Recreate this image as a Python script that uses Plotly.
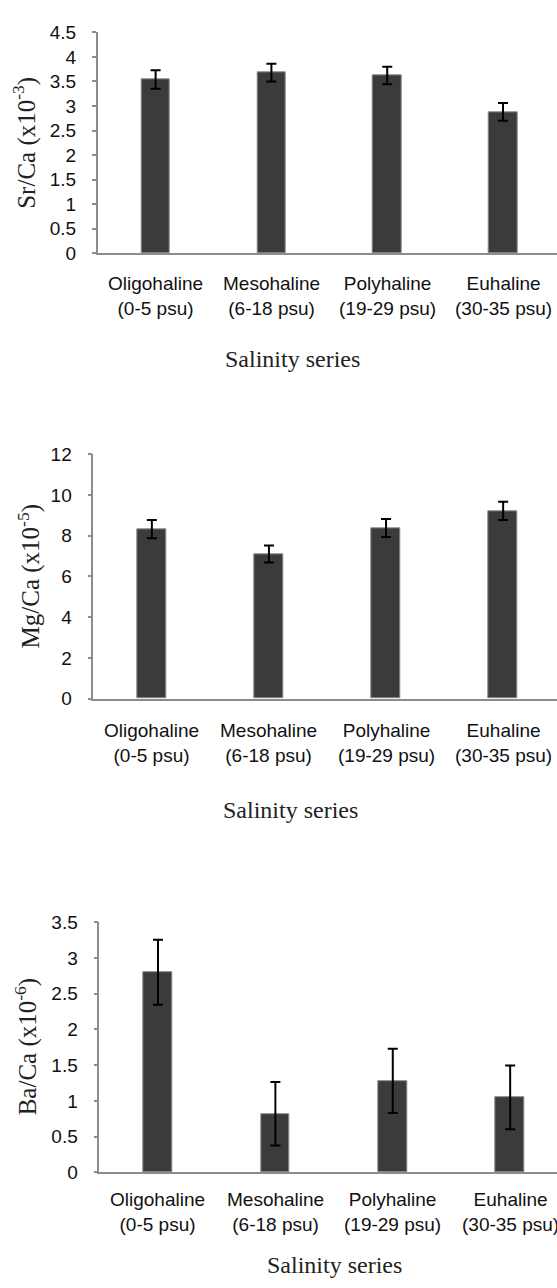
import plotly.graph_objects as go

# ---- data ----
categories = ["Oligohaline", "Mesohaline", "Polyhaline", "Euhaline"]
ranges = ["(0-5 psu)", "(6-18 psu)", "(19-29 psu)", "(30-35 psu)"]

sr_vals = [3.54, 3.68, 3.62, 2.88]
sr_err = [0.19, 0.18, 0.18, 0.18]

mg_vals = [8.33, 7.10, 8.38, 9.22]
mg_err = [0.45, 0.42, 0.44, 0.45]

ba_vals = [2.80, 0.82, 1.28, 1.05]
ba_err = [0.455, 0.445, 0.45, 0.445]

y_titles = ["Sr/Ca (x10<sup>-3</sup>)", "Mg/Ca (x10<sup>-5</sup>)", "Ba/Ca (x10<sup>-6</sup>)"]
x_title = "Salinity series"
y_ranges = [(0, 4.5), (0, 12), (0, 3.5)]
y_dticks = [0.5, 2, 0.5]

W, H = 557, 1288

# ---- layout geometry (pixels) ----
panels = [
    dict(axis_x=97.7, xr=3.466, top=22.7, bottom=247.3, lab=291, st=355, st_x=292, yt_x=25),
    dict(axis_x=93.3, xr=3.46, top=451.7, bottom=700.0, lab=745, st=813, st_x=290, yt_x=29),
    dict(axis_x=99.3, xr=3.399, top=927.3, bottom=1181.7, lab=1222, st=1276, st_x=334, yt_x=26),
]

series = [(sr_vals, sr_err), (mg_vals, mg_err), (ba_vals, ba_err)]

fig = go.Figure()
annotations = []
sans = "Liberation Sans, Arial, sans-serif"
serif = "Liberation Serif, Times New Roman, serif"
axis_col = "#8c8c8c"

for i, (p, (vals, errs)) in enumerate(zip(panels, series)):
    n = i + 1
    xa = "x" if n == 1 else f"x{n}"
    ya = "y" if n == 1 else f"y{n}"
    fig.add_trace(go.Bar(
        x=categories, y=vals, xaxis=xa, yaxis=ya, width=0.245,
        marker=dict(color="#3b3b3b", line=dict(color="#8a8a8a", width=1)),
        error_y=dict(type="data", array=errs, visible=True, color="#000000",
                     thickness=2, width=5),
        showlegend=False,
    ))
    xdom = [p["axis_x"] / W, 1.0]
    ydom = [1 - p["bottom"] / H, 1 - p["top"] / H]
    fig.layout[f"xaxis{'' if n == 1 else n}"] = dict(
        domain=xdom, range=[-0.5, p["xr"]], type="category", anchor=ya,
        showline=True, linecolor=axis_col, linewidth=1.5, showticklabels=False,
        ticks="", showgrid=False, zeroline=False, fixedrange=True,
    )
    fig.layout[f"yaxis{'' if n == 1 else n}"] = dict(
        domain=ydom, range=list(y_ranges[i]), dtick=y_dticks[i], tick0=0, anchor=xa,
        showline=True, linecolor=axis_col, linewidth=1.5, ticks="outside",
        ticklen=4, tickcolor=axis_col, tickwidth=1.5, showgrid=False, zeroline=False,
        tickfont=dict(family=sans, size=19, color="#111111"), ticklabelstandoff=12,
        fixedrange=True,
    )
    for c, r in zip(categories, ranges):
        annotations.append(dict(x=c, xref=xa, y=1 - p["lab"] / H, yref="paper",
                                text=f"{c}<br>{r}",
                                showarrow=False, xanchor="center", yanchor="middle",
                                font=dict(family=sans, size=19, color="#111111")))
    annotations.append(dict(x=p["st_x"] / W, xref="paper", y=1 - p["st"] / H, yref="paper",
                            text=x_title, showarrow=False, xanchor="center", yanchor="middle",
                            font=dict(family=serif, size=24, color="#222222")))
    annotations.append(dict(x=p["yt_x"] / W, xref="paper", y=1 - (p["top"] + p["bottom"]) / 2 / H,
                            yref="paper", text=y_titles[i], textangle=-90, showarrow=False,
                            xanchor="center", yanchor="middle",
                            font=dict(family=serif, size=25, color="#222222")))

fig.update_layout(
    width=W, height=H, autosize=False,
    margin=dict(l=0, r=0, t=0, b=0, pad=0),
    paper_bgcolor="white", plot_bgcolor="white",
    annotations=annotations, bargap=0,
)

fig.write_html("out.html", config={"displayModeBar": False})
